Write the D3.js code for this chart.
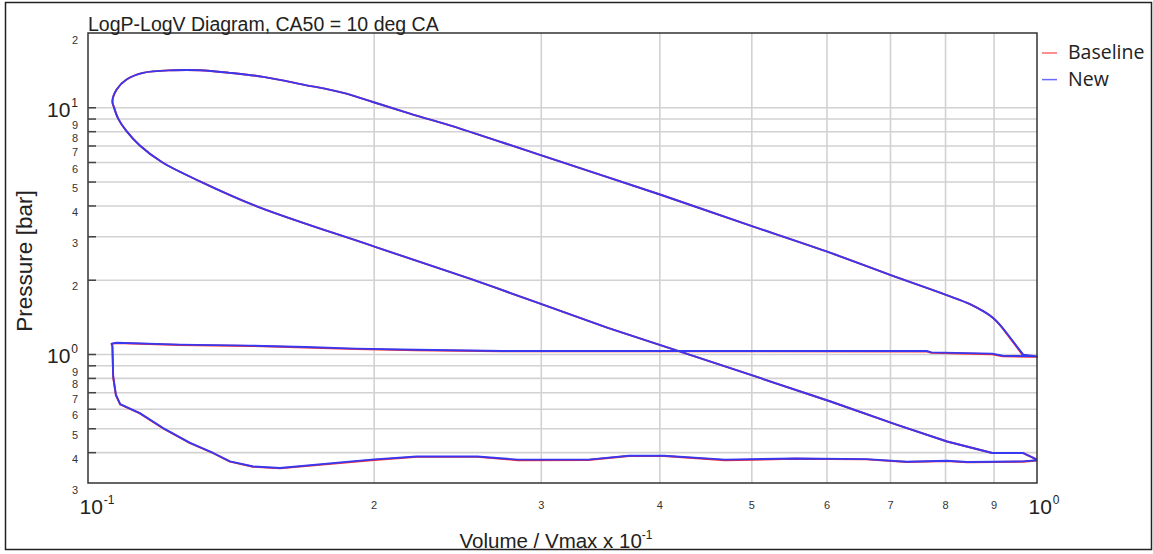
<!DOCTYPE html>
<html>
<head>
<meta charset="utf-8">
<script src="https://cdn.jsdelivr.net/npm/d3@7"></script>
<style>
    body { margin: 0; background: #fff; }
    svg { display: block; font-family: "Liberation Sans", Arial, sans-serif; }
</style>
</head>
<body>
<div class="chart"></div>
<script>
// volume / Vmax, traced around the cycle: compression, combustion, expansion, exhaust, intake
var volume = [1.0, 0.966, 0.897, 0.804, 0.711, 0.606, 0.505, 0.420, 0.353, 0.295,
    0.253, 0.200, 0.1506, 0.1312, 0.1196, 0.1134, 0.1098, 0.1076, 0.1065, 0.1061,
    0.1072, 0.1098, 0.1143, 0.1230, 0.1312, 0.1411, 0.1530, 0.1686, 0.1858, 0.200,
    0.2184, 0.2466, 0.295, 0.4006, 0.5016, 0.606, 0.699, 0.8005, 0.852, 0.899,
    0.932, 0.967, 1.0,
    0.920, 0.897, 0.774, 0.765, 0.2734, 0.2220, 0.1916, 0.1696, 0.1481, 0.1250,
    0.1072, 0.1059, 0.1061, 0.1063, 0.1070, 0.1081,
    0.1134, 0.120, 0.1281, 0.1355, 0.1411, 0.1493, 0.1593, 0.1988, 0.222, 0.2572,
    0.2837, 0.3368, 0.3715, 0.4046, 0.4689, 0.5567, 0.6607, 0.729, 0.804, 0.844,
    0.966, 1.0];

// pressure [bar]
var pressureNew = [0.373, 0.397, 0.397, 0.442, 0.517, 0.642, 0.811, 1.024, 1.275, 1.634,
    2.014, 2.731, 3.968, 5.01, 6.0, 7.0, 8.0, 9.0, 10.0, 10.58,
    11.80, 12.95, 13.79, 14.13, 14.13, 13.79, 13.28, 12.36, 11.44, 10.48,
    9.42, 8.20, 6.53, 4.43, 3.29, 2.568, 2.097, 1.740, 1.585, 1.400,
    1.197, 0.994, 0.978,
    0.984, 1.003, 1.015, 1.028, 1.028, 1.041, 1.051, 1.068, 1.081, 1.091,
    1.111, 1.101, 1.074, 0.811, 0.684, 0.627,
    0.576, 0.501, 0.436, 0.397, 0.367, 0.350, 0.345, 0.373, 0.384, 0.384,
    0.373, 0.373, 0.387, 0.387, 0.373, 0.377, 0.375, 0.366, 0.369, 0.365,
    0.367, 0.371];

var pressureBaseline = [0.373, 0.397, 0.397, 0.442, 0.517, 0.642, 0.811, 1.024, 1.275, 1.634,
    2.014, 2.731, 3.968, 5.01, 6.0, 7.0, 8.0, 9.0, 10.0, 10.58,
    11.80, 12.95, 13.79, 14.13, 14.13, 13.79, 13.28, 12.36, 11.44, 10.48,
    9.42, 8.20, 6.53, 4.43, 3.29, 2.568, 2.097, 1.740, 1.585, 1.400,
    1.19, 0.985, 0.975,
    0.978, 0.998, 1.012, 1.024, 1.026, 1.035, 1.046, 1.062, 1.078, 1.088,
    1.108, 1.099, 1.072, 0.805, 0.68, 0.625,
    0.574, 0.499, 0.435, 0.396, 0.366, 0.349, 0.344, 0.371, 0.383, 0.383,
    0.371, 0.372, 0.386, 0.386, 0.371, 0.376, 0.374, 0.365, 0.368, 0.364,
    0.366, 0.370];

var seriesNames = ['Baseline', 'New'];
var xTicks = [0.1, 0.2, 0.3, 0.4, 0.5, 0.6, 0.7, 0.8, 0.9, 1];
var yTicks = [0.3, 0.4, 0.5, 0.6, 0.7, 0.8, 0.9, 1, 2, 3, 4, 5, 6, 7, 8, 9, 10, 20];

var chartConfig = {
    w: 1153,
    h: 554,
    left: 88,
    top: 33,
    right: 1037,
    bottom: 483,
    selector: '.chart',
    colors: { Baseline: '#ff2a2a', New: '#3838f0' },
    legendColors: { Baseline: '#ff6a6a', New: '#6a6aff' },
    // the high pressure loop is drawn smooth, the gas exchange part straight
    smoothFrom: 9,
    smoothTo: 40
};

var drawChart = function () {
    var c = chartConfig;
    var plotW = c.right - c.left, plotH = c.bottom - c.top;

    var xScale = d3.scaleLog().domain([0.1, 1]).range([c.left, c.right]);
    var yScale = d3.scaleLog().domain([0.3, 20]).range([c.bottom, c.top]);

    var svg = d3.select(c.selector).append('svg')
        .attr('width', c.w)
        .attr('height', c.h);

    // outer frame
    svg.append('rect')
        .attr('x', 5.5).attr('y', 2.5)
        .attr('width', 1146).attr('height', 547)
        .attr('fill', 'none').attr('stroke', '#222').attr('stroke-width', 1.5);

    var isDecade = function (d) { return Math.abs(Math.log10(d) - Math.round(Math.log10(d))) < 1e-9; };
    var inner = function (list, lo, hi) { return list.filter(function (d) { return d > lo * 1.0001 && d < hi * 0.9999; }); };

    // grid
    svg.append('g')
        .attr('class', 'grid')
        .attr('transform', 'translate(0,' + c.bottom + ')')
        .call(d3.axisBottom(xScale).tickValues(inner(xTicks, 0.1, 1)).tickSize(-plotH).tickFormat(''));
    svg.append('g')
        .attr('class', 'grid')
        .attr('transform', 'translate(' + c.left + ',0)')
        .call(d3.axisLeft(yScale).tickValues(inner(yTicks, 0.3, 20)).tickSize(-plotW).tickFormat(''));
    svg.selectAll('.grid .domain').remove();
    svg.selectAll('.grid line').attr('stroke', '#d2d2d2').attr('stroke-width', 1.6);

    // curves
    var straight = d3.line()
        .x(function (d) { return xScale(d[0]); })
        .y(function (d) { return yScale(d[1]); });
    var smooth = d3.line()
        .curve(d3.curveCatmullRom.alpha(0.5))
        .x(function (d) { return xScale(d[0]); })
        .y(function (d) { return yScale(d[1]); });

    var series = {
        Baseline: volume.map(function (v, i) { return [v, pressureBaseline[i]]; }),
        New: volume.map(function (v, i) { return [v, pressureNew[i]]; })
    };
    seriesNames.forEach(function (name) {
        var pts = series[name];
        var d = straight(pts.slice(0, c.smoothFrom + 1)) +
            smooth(pts.slice(c.smoothFrom, c.smoothTo + 1)) +
            straight(pts.slice(c.smoothTo));
        svg.append('path')
            .attr('d', d)
            .attr('fill', 'none')
            .attr('stroke', c.colors[name])
            .attr('stroke-width', 1.9)
            .attr('stroke-linejoin', 'round');
    });

    // plot frame
    svg.append('rect')
        .attr('x', c.left).attr('y', c.top)
        .attr('width', plotW).attr('height', plotH)
        .attr('fill', 'none').attr('stroke', '#333').attr('stroke-width', 1.5);

    // y ticks (inside)
    svg.append('g')
        .attr('class', 'yticks')
        .attr('transform', 'translate(' + c.left + ',0)')
        .call(d3.axisLeft(yScale).tickValues(inner(yTicks, 0.3, 20)).tickSize(-8).tickFormat(''))
        .call(function (g) { g.select('.domain').remove(); })
        .selectAll('line').attr('stroke', '#444').attr('stroke-width', 1.5);

    var lead = function (d) { return String(Math.round(d / Math.pow(10, Math.floor(Math.log10(d) + 1e-9)))); };

    // y labels
    var yAxis = svg.append('g')
        .attr('transform', 'translate(' + c.left + ',0)')
        .call(d3.axisLeft(yScale).tickValues(yTicks).tickSize(0).tickPadding(10).tickFormat(''));
    yAxis.select('.domain').remove();
    yAxis.selectAll('.tick text').each(function (d) {
        var t = d3.select(this).attr('font-family', null).attr('dy', null);
        if (isDecade(d)) {
            t.attr('y', 9).attr('fill', '#222');
            t.append('tspan').attr('font-size', 21).text('10');
            t.append('tspan').attr('font-size', 12).attr('dx', 1).attr('dy', -10).text(Math.round(Math.log10(d)));
        } else {
            t.attr('y', 10).attr('font-size', 11).attr('fill', '#333').text(lead(d));
        }
    });

    // x labels
    var xAxis = svg.append('g')
        .attr('transform', 'translate(0,' + c.bottom + ')')
        .call(d3.axisBottom(xScale).tickValues(xTicks).tickSize(0).tickPadding(0).tickFormat(''));
    xAxis.select('.domain').remove();
    xAxis.selectAll('.tick text').each(function (d) {
        var t = d3.select(this).attr('font-family', null).attr('dy', null);
        if (isDecade(d)) {
            t.attr('y', 31).attr('x', -9).attr('text-anchor', 'start').attr('fill', '#222');
            t.append('tspan').attr('font-size', 21).text('10');
            t.append('tspan').attr('font-size', 12).attr('dx', 1).attr('dy', -10).text(Math.round(Math.log10(d)));
        } else {
            t.attr('y', 26).attr('font-size', 11).attr('fill', '#333').text(lead(d));
        }
    });

    // titles
    svg.append('text')
        .attr('x', c.left).attr('y', 31)
        .attr('font-size', 19.5).attr('fill', '#222')
        .text('LogP-LogV Diagram, CA50 = 10 deg CA');

    var xt = svg.append('text')
        .attr('x', 556).attr('y', 548)
        .attr('text-anchor', 'middle')
        .attr('font-size', 20.5).attr('fill', '#222');
    xt.append('tspan').text('Volume / Vmax x 10');
    xt.append('tspan').attr('font-size', 12).attr('dy', -9).text('-1');

    svg.append('text')
        .attr('transform', 'translate(32,261) rotate(-90)')
        .attr('text-anchor', 'middle')
        .attr('font-size', 22.5).attr('fill', '#222')
        .text('Pressure [bar]');

    // legend
    var legend = svg.append('g').attr('class', 'legend');
    seriesNames.forEach(function (name, i) {
        var ly = 53 + i * 26.6;
        legend.append('line')
            .attr('x1', 1042).attr('x2', 1057)
            .attr('y1', ly).attr('y2', ly)
            .attr('stroke', c.legendColors[name]).attr('stroke-width', 1.5);
        legend.append('text')
            .attr('x', 1068).attr('y', ly + 6)
            .attr('font-family', '"Open Sans", sans-serif')
            .attr('font-size', 19.5).attr('fill', '#222')
            .text(name);
    });
};

drawChart();
</script>
</body>
</html>
